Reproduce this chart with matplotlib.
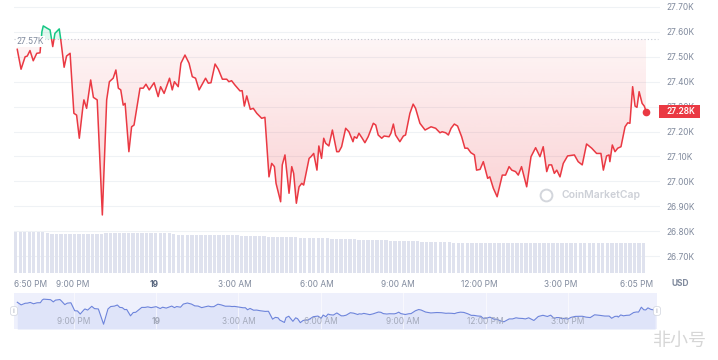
import matplotlib
matplotlib.use("Agg")
import matplotlib.pyplot as plt
import matplotlib.transforms as mtransforms
from matplotlib.path import Path
from matplotlib.patches import Rectangle
import numpy as np

plt.rcParams['font.family'] = ['Inter', 'DejaVu Sans']

# hours after 6:50 PM, price in thousands of USD
hours = [0.12, 0.26, 0.41, 0.49, 0.59, 0.71, 0.84, 0.96, 1.03, 1.08,
         1.23, 1.33, 1.43, 1.51, 1.67, 1.72, 1.85, 1.94, 2.07, 2.21,
         2.31, 2.41, 2.54, 2.58, 2.68, 2.83, 2.93, 3.07, 3.26, 3.42,
         3.52, 3.66, 3.76, 3.85, 3.94, 4.03, 4.10, 4.24, 4.34, 4.43,
         4.65, 4.77, 4.87, 4.99, 5.17, 5.32, 5.41, 5.54, 5.74, 5.84,
         5.92, 6.06, 6.16, 6.31, 6.46, 6.58, 6.70, 6.83, 7.07, 7.17,
         7.27, 7.42, 7.54, 7.69, 7.85, 7.93, 8.03, 8.15, 8.34, 8.42,
         8.50, 8.59, 8.72, 8.83, 8.96, 9.14, 9.26, 9.41, 9.51, 9.61,
         9.67, 9.84, 9.90, 10.00, 10.15, 10.25, 10.32, 10.42, 10.52, 10.62,
         10.69, 10.89, 10.96, 11.06, 11.18, 11.25, 11.35, 11.43, 11.50, 11.62,
         11.75, 11.91, 11.99, 12.09, 12.24, 12.36, 12.51, 12.56, 12.65, 12.73,
         12.85, 12.95, 13.07, 13.26, 13.35, 13.44, 13.57, 13.66, 13.84, 13.91,
         14.00, 14.08, 14.24, 14.37, 14.45, 14.61, 14.73, 14.82, 14.98, 15.17,
         15.39, 15.56, 15.72, 15.80, 15.93, 16.03, 16.13, 16.25, 16.37, 16.52,
         16.64, 16.74, 16.86, 16.99, 17.07, 17.20, 17.32, 17.48, 17.56, 17.69,
         17.83, 18.02, 18.14, 18.27, 18.37, 18.51, 18.61, 18.73, 18.92, 19.08,
         19.25, 19.35, 19.41, 19.53, 19.66, 19.74, 19.84, 19.94, 20.03, 20.15,
         20.27, 20.43, 20.68, 20.82, 20.97, 21.13, 21.32, 21.50, 21.66, 21.75,
         21.87, 21.96, 21.99, 22.08, 22.18, 22.28, 22.40, 22.55, 22.65, 22.73,
         22.83, 22.92, 22.99, 23.07, 23.18, 23.26, 23.33]
price_k = [27.530, 27.450, 27.500, 27.503, 27.525, 27.484, 27.514, 27.516, 27.601, 27.624,
           27.614, 27.608, 27.541, 27.594, 27.612, 27.574, 27.458, 27.503, 27.514, 27.273,
           27.266, 27.173, 27.297, 27.327, 27.293, 27.407, 27.337, 27.327, 26.865, 27.327,
           27.400, 27.414, 27.447, 27.374, 27.367, 27.306, 27.313, 27.119, 27.219, 27.226,
           27.374, 27.374, 27.390, 27.367, 27.396, 27.340, 27.380, 27.353, 27.414, 27.367,
           27.400, 27.380, 27.474, 27.507, 27.474, 27.420, 27.414, 27.367, 27.414, 27.394,
           27.396, 27.471, 27.450, 27.410, 27.410, 27.400, 27.404, 27.387, 27.363, 27.364,
           27.302, 27.343, 27.289, 27.293, 27.273, 27.253, 27.257, 27.018, 27.072, 27.059,
           26.992, 26.918, 27.066, 27.106, 26.952, 27.059, 27.032, 26.912, 26.978, 26.992,
           26.985, 27.092, 27.099, 27.112, 27.045, 27.142, 27.092, 27.173, 27.153, 27.142,
           27.206, 27.119, 27.119, 27.139, 27.213, 27.199, 27.159, 27.179, 27.173, 27.193,
           27.173, 27.155, 27.179, 27.233, 27.226, 27.186, 27.173, 27.182, 27.179, 27.193,
           27.230, 27.186, 27.159, 27.182, 27.186, 27.273, 27.310, 27.293, 27.233, 27.206,
           27.219, 27.213, 27.195, 27.199, 27.195, 27.186, 27.213, 27.230, 27.222, 27.179,
           27.133, 27.133, 27.115, 27.106, 27.045, 27.048, 27.079, 27.012, 27.018, 26.972,
           26.938, 27.025, 27.025, 27.059, 27.045, 27.039, 27.025, 27.059, 26.978, 27.099,
           27.135, 27.112, 27.099, 27.139, 27.039, 27.066, 27.066, 27.032, 27.045, 27.018,
           27.072, 27.102, 27.106, 27.079, 27.066, 27.150, 27.133, 27.112, 27.112, 27.045,
           27.102, 27.106, 27.079, 27.146, 27.119, 27.133, 27.139, 27.219, 27.235, 27.233,
           27.380, 27.302, 27.297, 27.360, 27.313, 27.302, 27.280]
baseline_k = 27.57

# 10-minute volume bars (billions, no axis shown)
vol_step_h = 1 / 6
volume_b = [16.4, 16.4, 16.4, 16.4, 16.4, 16.4, 16.4, 16.0,
            15.6, 15.6, 15.5, 15.6, 15.6, 15.6, 15.5, 15.6, 15.6, 15.6, 15.6, 15.6,
            15.9, 16.1, 16.1, 16.1, 16.1, 16.1, 16.1, 16.1, 16.1, 16.1, 16.1, 16.0,
            16.1, 16.1, 16.1, 15.7, 15.2, 15.2, 15.2, 15.2, 15.2, 15.2, 15.2, 15.2,
            15.2, 15.2, 15.2, 15.2, 15.2, 15.2,
            15.0, 14.9, 14.9, 14.8, 14.8, 14.7, 14.6, 14.6, 14.5, 14.5,
            14.4, 14.3, 14.3, 14.2, 14.2, 14.1, 14.0, 14.0, 13.9, 13.9,
            13.8, 13.7, 13.7, 13.6, 13.6, 13.5, 13.4, 13.4, 13.3, 13.3,
            13.2, 13.1, 13.1, 13.0, 13.0, 12.9, 12.8, 12.8, 12.7, 12.7,
            12.6, 12.5, 12.5, 12.4, 12.4, 12.3, 12.3, 12.2, 12.2, 12.1,
            12.1, 12.1, 12.0, 12.0,
            12.0, 12.0, 12.0, 12.0, 11.9, 12.0, 12.0, 12.0, 12.0, 12.0, 12.0, 12.0,
            12.0, 12.0, 12.0, 11.9, 12.0, 12.0, 12.0, 12.0, 12.0, 12.0, 12.0, 12.0,
            12.0, 12.0, 12.0, 12.0, 12.0, 12.0, 12.0, 12.0, 12.0, 12.0, 12.0, 12.0]

y_ticks = [26.7, 26.8, 26.9, 27.0, 27.1, 27.2, 27.3, 27.4, 27.5, 27.6, 27.7]
x_tick_hours = [0, 2.1667, 5.1667, 8.1667, 11.1667, 14.1667, 17.1667, 20.1667, 23.25]
x_tick_labels = ['6:50 PM', '9:00 PM', '19', '3:00 AM', '6:00 AM', '9:00 AM',
                 '12:00 PM', '3:00 PM', '6:05 PM']
nav_tick_hours = x_tick_hours[1:-1]
nav_tick_labels = x_tick_labels[1:-1]

red = '#ea3943'
green = '#16c784'
gray = '#808a9d'

hrs = np.array(hours)
pr = np.array(price_k)

W, H = 718, 360
fig = plt.figure(figsize=(W / 100, H / 100), dpi=100)

# main price chart
ax = fig.add_axes([14 / W, 1 - 273 / H, 646 / W, 273 / H])
for s in ax.spines.values():
    s.set_visible(False)

# volume bars (twin axis, created first so the price ticks stay on the right)
axv = ax.twinx()
vol_x = np.arange(len(volume_b)) * vol_step_h
axv.bar(vol_x, volume_b, width=0.125, align='edge', color='#dfe2ee', linewidth=0)
axv.set_ylim(0, 109.2)
axv.set_axis_off()

ax.grid(axis='y', color='#eff2f5', lw=0.8)
ax.set_axisbelow(True)

ax.axhline(baseline_k, xmin=0, xmax=644 / 646, color='#c3c8d1', lw=0.8,
           linestyle=(0, (1, 2)), zorder=1.5)

below = ax.fill_between(hrs, pr, baseline_k, where=pr <= baseline_k,
                        interpolate=True, facecolor='none', edgecolor='none')
clip = Path.make_compound_path(*below.get_paths())
grad = np.zeros((256, 1, 4))
grad[:, 0, 0] = 234 / 255
grad[:, 0, 1] = 57 / 255
grad[:, 0, 2] = 67 / 255
grad[:, 0, 3] = np.linspace(0.05, 0.24, 256)
img = ax.imshow(grad, extent=[hrs[0], hrs[-1], pr.min(), baseline_k],
                aspect='auto', origin='upper', zorder=1, interpolation='bilinear')
img.set_clip_path(clip, ax.transData)

ax.fill_between(hrs, pr, baseline_k, where=pr >= baseline_k, interpolate=True,
                color=green, alpha=0.12, lw=0, zorder=1)

red_line, = ax.plot(hrs, pr, color=red, lw=1.1, zorder=3, solid_joinstyle='round')
red_line.set_clip_path(Rectangle((-1, 26.0), 30, baseline_k - 26.0, transform=ax.transData))
green_line, = ax.plot(hrs, pr, color=green, lw=1.1, zorder=3, solid_joinstyle='round')
green_line.set_clip_path(Rectangle((-1, baseline_k), 30, 5, transform=ax.transData))
ax.plot(hrs[-1], pr[-1], 'o', ms=4.5, color=red, zorder=4)

ax.set_xlim(0, 23.84)
ax.set_ylim(26.632, 27.728)

ax.yaxis.tick_right()
ax.set_yticks(y_ticks)
ax.set_yticklabels([f"{v:.2f}K" for v in y_ticks])
ax.tick_params(axis='y', length=0, pad=4.3, labelsize=6, labelcolor=gray)

ax.set_xticks(x_tick_hours)
ax.set_xticklabels(x_tick_labels)
ax.tick_params(axis='x', length=0, pad=5, labelsize=6, labelcolor=gray)
xlabels = ax.get_xticklabels()
xlabels[0].set_ha('left')
xlabels[2].set_fontweight('bold')
xlabels[2].set_color('#58667e')
xlabels[-1].set_transform(xlabels[-1].get_transform() +
                          mtransforms.ScaledTranslation(-0.07, 0, fig.dpi_scale_trans))

ax.annotate(f"{baseline_k:.2f}K", xy=(0.004, baseline_k),
            xycoords=mtransforms.blended_transform_factory(ax.transAxes, ax.transData),
            xytext=(0, -1.6), textcoords='offset points', ha='left', va='center',
            fontsize=6, color=gray, zorder=5,
            bbox=dict(boxstyle='square,pad=0.1', fc='white', ec='none'))

# last price tag
tag_tr = mtransforms.blended_transform_factory(ax.transAxes, ax.transData)
ax.add_patch(Rectangle((1 - 1 / 646, pr[-1] - 0.026), 41 / 646, 0.052, transform=tag_tr,
                       facecolor=red, edgecolor='none', clip_on=False, zorder=6))
ax.text(1 + 6 / 646, pr[-1], f"{pr[-1]:.2f}K", transform=tag_tr, ha='left',
        va='center', fontsize=6, color='white', fontweight='semibold', zorder=7)

# watermark
ax.plot(0.8235, 0.286, 'o', ms=8.5, mfc='none', mec='#d3d6dc', mew=1.4,
        transform=ax.transAxes, zorder=2)
ax.text(0.847, 0.286, 'CoinMarketCap', transform=ax.transAxes, ha='left', va='center',
        fontsize=7.5, color='#cdd0d7', fontweight='semibold', zorder=2)

fig.text(680 / W, 1 - 284 / H, 'USD', ha='center', va='center', fontsize=6,
         fontweight='bold', color=gray)

# navigator
axn = fig.add_axes([14 / W, 1 - 329 / H, 643 / W, 36 / H])
axn.set_facecolor('#eef0fc')
for s in axn.spines.values():
    s.set_visible(False)
axn.fill_between(hrs, pr, 26.72, color='#dfe4f9', lw=0, zorder=1)
for h in nav_tick_hours:
    axn.axvline(h, color='white', lw=0.8, alpha=0.6, zorder=1.5)
axn.plot(hrs, pr, color='#6d84db', lw=0.8, zorder=2)
axn.set_xlim(0, 23.40)
axn.set_ylim(26.72, 27.81)
axn.set_xticks([])
axn.set_yticks([])
nav_tr = mtransforms.blended_transform_factory(axn.transData, axn.transAxes)
for h, lbl in zip(nav_tick_hours, nav_tick_labels):
    axn.text(h, 0.22, lbl, transform=nav_tr, ha='center', va='center', fontsize=6,
             color='#a3a9ba', fontweight='bold' if lbl == '19' else 'normal', zorder=3)
for xa in (0.0, 1.0):
    axn.text(xa, 0.5, '||', transform=axn.transAxes, ha='center', va='center',
             fontsize=3, color='#9aa0b0', clip_on=False, zorder=4,
             bbox=dict(boxstyle='round,pad=0.5', fc='white', ec='#cfd3dd', lw=0.5))

fig.text(680 / W, 1 - 341 / H, '非小号', ha='center', va='center', fontsize=13,
         color='#d6d6d6', family=['Noto Sans CJK SC', 'DejaVu Sans'])

fig.savefig('out.png', dpi=100)
